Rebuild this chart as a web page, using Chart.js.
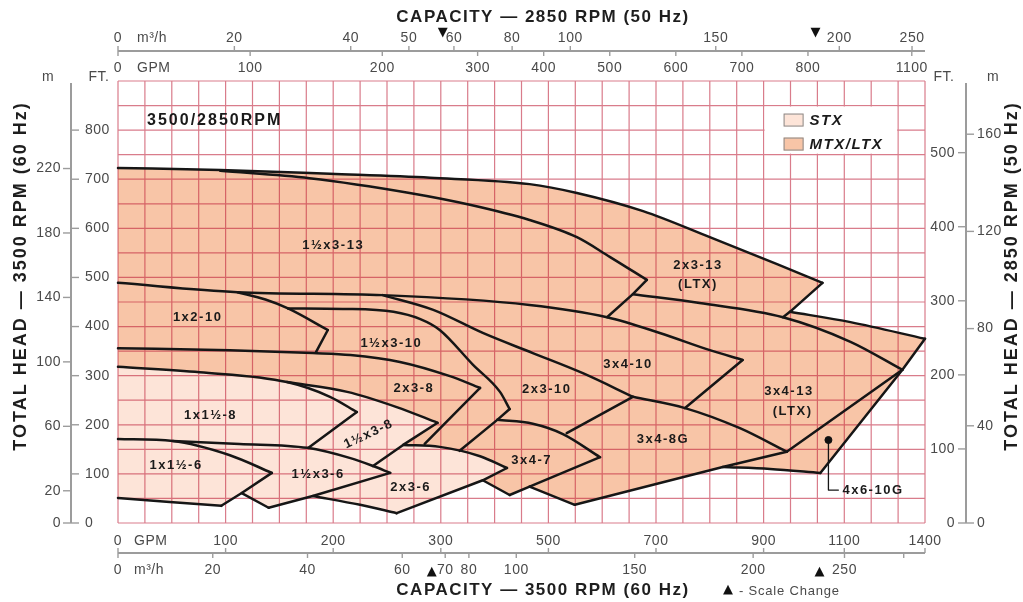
<!DOCTYPE html>
<html>
<head>
<meta charset="utf-8">
<style>
  html, body { margin: 0; padding: 0; background: #fff; }
  #wrap { width: 1023px; height: 602px; }
</style>
<script src="https://cdn.jsdelivr.net/npm/chart.js@4.4.1/dist/chart.umd.min.js"></script>
</head>
<body>
<div id="wrap"><canvas id="pumpChart" width="1023" height="602"></canvas></div>
<script>
// values are [GPM @ 3500 RPM, FT @ 3500 RPM]
const head2x3_13 = [[0,723],[95,719],[197,711],[290,703],[465,690],[553,672],[676,635],[800,582],[925,527],[1019,489]];
const edge2x3_13 = [[1019,489],[949,430],[936,419]];
const base2x3_13 = [[657,466],[781,448],[936,419],[1123,369],[1316,312]];

const head15x3_13 = [[95,717],[178,702],[271,672],[354,648],[465,617],[553,582],[614,542],[683,495]];
const edge15x3_13 = [[683,495],[657,466],[609,419]];
const base15x3_13 = [[0,489],[111,470],[246,464],[465,444],[609,419],[707,387],[800,352],[861,332]];

const head1x2_10 = [[111,470],[137,455],[158,437],[195,393]];
const edge1x2_10 = [[195,393],[184,348]];

const head15x3_10 = [[158,437],[209,436],[256,430],[281,415],[299,393],[360,322],[410,267],[428,232]];
const edge15x3_10 = [[428,232],[405,210],[335,147]];

const head2x3_8 = [[0,356],[104,352],[181,346],[216,342],[262,328],[317,299],[373,275]];
const edge2x3_8 = [[373,275],[285,161]];

const head2x3_10 = [[246,464],[293,434],[378,387],[471,346],[564,305],[657,257]];
const edge2x3_10 = [[657,257],[534,183]];

const edge3x4_10 = [[861,332],[754,234]];

const head3x4_8G = [[657,257],[754,234],[856,193],[943,145]];
const edge3x4_8G = [[943,145],[824,114],[549,37]];
const base3x4_8G = [[465,74],[549,37]];

const head3x4_13 = [[949,430],[1123,409],[1400,375]];
const edge3x4_13 = [[1400,375],[1316,312]];
const base3x4_13 = [[943,145],[1316,312]];

const edge4x6_10G = [[1316,312],[1011,102]];
const base4x6_10G = [[824,114],[912,110],[1011,102]];
const dot4x6_10G = [1041,169];
const lead4x6_10G = [[1041,169],[1041,67],[1078,67]];

const head3x4_7 = [[405,210],[471,202],[527,181],[596,134]];
const edge3x4_7 = [[596,134],[465,74],[428,57]];
const base3x4_7 = [[378,87],[428,57]];

// STX models
const head1x15_8 = [[0,318],[76,307],[157,287],[197,257],[222,226]];
const edge1x15_8 = [[222,226],[177,153]];
const head15x3_8 = [[157,287],[213,267],[259,236],[297,204]];
const edge15x3_8 = [[297,204],[265,159],[237,116]];
const head1x15_6 = [[0,171],[51,167],[104,138],[143,102]];
const edge1x15_6 = [[143,102],[115,61],[96,35]];
const base1x15_6 = [[0,51],[48,43],[96,35]];
const head15x3_6 = [[51,167],[113,161],[176,153],[216,132],[237,116],[253,102]];
const edge15x3_6 = [[253,102],[181,55],[140,31]];
const base15x3_6 = [[115,61],[140,31]];
const head2x3_6 = [[265,159],[299,155],[373,136],[423,112]];
const edge2x3_6 = [[423,112],[378,87],[259,20]];
const base2x3_6 = [[181,55],[225,37],[259,20]];

const modelNames = ['1½x3-13', '2x3-13', '(LTX)', '1x2-10', '1½x3-10', '2x3-8', '2x3-10', '3x4-10',
  '3x4-13', '(LTX)', '3x4-8G', '3x4-7', '2x3-6', '1½x3-6', '1x1½-6', '1x1½-8', '1½x3-8'];
const modelAt = [[200,566],[778,525],[778,485],[74,419],[254,366],[275,275],[497,271],[648,322],
  [947,267],[954,228],[713,171],[469,128],[272,73],[186,98],[54,118],[86,220],[233,181]];
const modelTilt = [0,0,0,0,0,0,0,0,0,0,0,0,0,0,0,0,-25];

// axis ticks
const ftTicks60 = [0,100,200,300,400,500,600,700,800];
const mTicks60 = [0,20,60,100,140,180,220];
const ftTicks50 = [0,100,200,300,400,500];
const mTicks50 = [0,40,80,120,160];
const gpmTicks60 = [0,100,200,300,500,700,900,1100,1400];
const m3hTicks60 = [0,20,40,60,70,80,100,150,200,250];
const m3hMinor60 = [300];
const gpmTicks50 = [0,100,200,300,400,500,600,700,800,1100];
const m3hTicks50 = [0,20,40,50,60,80,100,150,200,250];
const scaleChanges = [300, 1000];

const FLOW_RATIO = 2850 / 3500;
const HEAD_RATIO = FLOW_RATIO * FLOW_RATIO;
const M3H_TO_GPM = 4.4029;
const M_TO_FT = 3.2808;
const FONT = "'Liberation Sans', Arial, Helvetica, sans-serif";
const MTX_FILL = '#f8c5a7';
const STX_FILL = '#fde4d8';
const GRID = 'rgba(190, 30, 55, 0.58)';

// the printed GPM axis changes scale at 300 and 1000 GPM
function gpmToCol(g) {
  if (g <= 300) return g / 25;
  if (g <= 1000) return 12 + (g - 300) / 50;
  return 26 + (g - 1000) / 100;
}

const pt = ([g, ft]) => ({ x: gpmToCol(g), y: ft });
const rev = a => a.slice().reverse();

const mtxBoundary = [
  ...head2x3_13, ...edge2x3_13.slice(1, 2), ...head3x4_13.slice(1), ...edge3x4_13.slice(1),
  ...edge4x6_10G.slice(1), ...rev(base4x6_10G).slice(1), ...edge3x4_8G.slice(2),
  ...rev(base3x4_8G).slice(1), ...edge3x4_7.slice(2), ...rev(base3x4_7).slice(1),
  ...edge2x3_6.slice(2), ...rev(base2x3_6).slice(1), ...edge15x3_6.slice(2),
  ...rev(base15x3_6).slice(1), ...edge1x15_6.slice(2), ...rev(base1x15_6).slice(1)
];
const stxBoundary = [
  ...head1x15_8.slice(0, 3), ...head15x3_8.slice(1), ...edge15x3_8.slice(1, 2),
  ...head2x3_6.slice(1), ...edge2x3_6.slice(1), ...rev(base2x3_6).slice(1),
  ...edge15x3_6.slice(2), ...rev(base15x3_6).slice(1), ...edge1x15_6.slice(2),
  ...rev(base1x15_6).slice(1)
];

const curves = [head2x3_13, head15x3_13, base15x3_13, base2x3_13, head1x2_10, head15x3_10,
  head2x3_8, head2x3_10, head3x4_8G, head3x4_13, base4x6_10G, head3x4_7, head1x15_8,
  head15x3_8, head1x15_6, base1x15_6, head15x3_6, base15x3_6, head2x3_6, base2x3_6,
  base3x4_7, base3x4_8G];
const edges = [edge2x3_13, edge15x3_13, edge1x2_10, edge15x3_10, edge2x3_8, edge2x3_10,
  edge3x4_10, edge3x4_8G, edge3x4_13, base3x4_13, edge4x6_10G, edge3x4_7, edge1x15_8,
  edge15x3_8, edge1x15_6, edge15x3_6, edge2x3_6];

const outline = (d, smooth) => ({
  data: d.map(pt), showLine: true, fill: false, order: 1, clip: false,
  borderColor: '#161616', borderWidth: 2.5, borderCapStyle: 'round', borderJoinStyle: 'round',
  pointRadius: 0, tension: 0, cubicInterpolationMode: smooth ? 'monotone' : 'default'
});

const datasets = [
  { role: 'mtx', data: mtxBoundary.map(pt), showLine: true, fill: 'shape', order: 3,
    backgroundColor: MTX_FILL, borderColor: 'transparent', borderWidth: 1, pointRadius: 0 },
  { role: 'stx', data: stxBoundary.map(pt), showLine: true, fill: 'shape', order: 2,
    backgroundColor: STX_FILL, borderColor: 'transparent', borderWidth: 1, pointRadius: 0 },
  ...curves.map(c => outline(c, true)),
  ...edges.map(e => outline(e, false)),
  { ...outline(lead4x6_10G, false), borderWidth: 1.3 },
  { data: [pt(dot4x6_10G)], showLine: false, order: 0, pointRadius: 3.5,
    pointBackgroundColor: '#111', pointBorderColor: '#111' }
];

function drawGrid(chart) {
  const { ctx, chartArea: a, scales: { x, y } } = chart;
  ctx.save();
  ctx.strokeStyle = GRID;
  ctx.lineWidth = 1.2;
  ctx.beginPath();
  for (let c = x.min; c <= x.max; c++) {
    const xx = x.getPixelForValue(c);
    ctx.moveTo(xx, a.top); ctx.lineTo(xx, a.bottom);
  }
  for (let f = y.min; f <= y.max; f += 50) {
    const yy = y.getPixelForValue(f);
    ctx.moveTo(a.left, yy); ctx.lineTo(a.right, yy);
  }
  ctx.stroke();
  ctx.restore();
}

function drawLabels(chart) {
  const { ctx, scales: { x, y } } = chart;
  ctx.save();
  ctx.fillStyle = '#1a1a1a';
  ctx.textAlign = 'center';
  ctx.textBaseline = 'middle';
  ctx.font = `bold 13px ${FONT}`;
  ctx.letterSpacing = '1.5px';
  modelNames.forEach((name, i) => {
    const xx = x.getPixelForValue(gpmToCol(modelAt[i][0]));
    const yy = y.getPixelForValue(modelAt[i][1]);
    ctx.save();
    ctx.translate(xx, yy);
    ctx.rotate(modelTilt[i] * Math.PI / 180);
    ctx.fillText(name, 0, 0);
    ctx.restore();
  });
  ctx.textAlign = 'left';
  ctx.fillText('4x6-10G', x.getPixelForValue(gpmToCol(1093)), y.getPixelForValue(67));
  ctx.font = `bold 16px ${FONT}`;
  ctx.letterSpacing = '2px';
  ctx.fillText('3500/2850RPM', x.getPixelForValue(gpmToCol(27)), y.getPixelForValue(820));

  // legend box sits on grid cells 900-1300 GPM, 750-850 FT
  const bx = x.getPixelForValue(gpmToCol(900)), by = y.getPixelForValue(850);
  const bw = x.getPixelForValue(gpmToCol(1300)) - bx, bh = y.getPixelForValue(750) - by;
  ctx.fillStyle = '#fff';
  ctx.fillRect(bx + 1, by + 1, bw - 2, bh - 2);
  ctx.letterSpacing = '1.5px';
  [[STX_FILL, 'STX'], [MTX_FILL, 'MTX/LTX']].forEach(([col, txt], i) => {
    const sy = by + 8 + i * 24;
    ctx.fillStyle = col;
    ctx.fillRect(bx + 20, sy, 20, 13);
    ctx.strokeStyle = '#8a8a8a';
    ctx.lineWidth = 1;
    ctx.strokeRect(bx + 20.5, sy + 0.5, 19, 12);
    ctx.fillStyle = '#1a1a1a';
    ctx.font = `italic bold 15px ${FONT}`;
    ctx.fillText(txt, bx + 46, sy + 7);
  });
  ctx.restore();
}

function drawAxes(chart) {
  const { ctx, chartArea: a, scales: { x, y } } = chart;
  const px = g => x.getPixelForValue(gpmToCol(g));
  const py = ft => y.getPixelForValue(ft);
  const seg = (x1, y1, x2, y2) => { ctx.beginPath(); ctx.moveTo(x1, y1); ctx.lineTo(x2, y2); ctx.stroke(); };
  const txt = (s, xx, yy, align) => { ctx.textAlign = align; ctx.fillText(s, xx, yy); };

  ctx.save();
  ctx.strokeStyle = '#9c9c9c';
  ctx.fillStyle = '#4a4a4a';
  ctx.textBaseline = 'middle';
  ctx.font = `14px ${FONT}`;
  ctx.letterSpacing = '0.5px';

  // top: 2850 RPM capacity
  const ty = a.top - 30;
  ctx.lineWidth = 2; seg(a.left, ty, a.right, ty);
  ctx.lineWidth = 1.4;
  m3hTicks50.forEach(v => {
    const xx = px(v * M3H_TO_GPM / FLOW_RATIO);
    seg(xx, ty - 5, xx, ty);
    txt(String(v), xx, ty - 13, 'center');
  });
  gpmTicks50.forEach(v => {
    const xx = px(v / FLOW_RATIO);
    seg(xx, ty, xx, ty + 5);
    txt(String(v), xx, ty + 17, 'center');
  });
  txt('m³/h', a.left + 19, ty - 13, 'left');
  txt('GPM', a.left + 19, ty + 17, 'left');

  // bottom: 3500 RPM capacity
  const by = a.bottom + 30;
  ctx.lineWidth = 2; seg(a.left, by, a.right, by);
  ctx.lineWidth = 1.4;
  gpmTicks60.forEach(v => {
    const xx = px(v);
    seg(xx, by - 5, xx, by);
    txt(String(v), xx, by - 12, 'center');
  });
  m3hTicks60.forEach(v => {
    const xx = px(v * M3H_TO_GPM);
    seg(xx, by, xx, by + 5);
    txt(String(v), xx, by + 17, 'center');
  });
  m3hMinor60.forEach(v => { const xx = px(v * M3H_TO_GPM); seg(xx, by, xx, by + 5); });
  txt('GPM', a.left + 16, by - 12, 'left');
  txt('m³/h', a.left + 16, by + 17, 'left');

  // left: 3500 RPM head
  const lx = a.left - 47;
  ctx.lineWidth = 2; seg(lx, a.top + 2, lx, a.bottom);
  ctx.lineWidth = 1.4;
  ftTicks60.forEach(v => { const yy = py(v); seg(lx, yy, lx + 8, yy); txt(String(v), lx + 14, yy, 'left'); });
  mTicks60.forEach(v => { const yy = py(v * M_TO_FT); seg(lx - 8, yy, lx, yy); txt(String(v), lx - 10, yy, 'right'); });
  txt('m', lx - 23, a.top - 4, 'center');
  txt('FT.', lx + 28, a.top - 4, 'center');

  // right: 2850 RPM head
  const rx = a.right + 41;
  ctx.lineWidth = 2; seg(rx, a.top + 2, rx, a.bottom);
  ctx.lineWidth = 1.4;
  ftTicks50.forEach(v => { const yy = py(v / HEAD_RATIO); seg(rx - 8, yy, rx, yy); txt(String(v), rx - 11, yy, 'right'); });
  mTicks50.forEach(v => { const yy = py(v * M_TO_FT / HEAD_RATIO); seg(rx, yy, rx + 8, yy); txt(String(v), rx + 11, yy, 'left'); });
  txt('FT.', rx - 22, a.top - 4, 'center');
  txt('m', rx + 27, a.top - 4, 'center');

  // scale change markers
  ctx.letterSpacing = '0px';
  ctx.fillStyle = '#111';
  ctx.font = `13px 'DejaVu Sans', sans-serif`;
  scaleChanges.forEach((g, i) => {
    txt('▼', px(g) + (i ? -2 : 2), ty - 18, 'center');
    txt('▲', px(g) + (i ? 2 : -9), by + 19, 'center');
  });
  txt('▲', 728, by + 37, 'center');
  ctx.font = `13px ${FONT}`;
  ctx.letterSpacing = '0.8px';
  ctx.fillStyle = '#4a4a4a';
  txt('- Scale Change', 739, by + 38, 'left');

  // titles
  ctx.fillStyle = '#1e1e1e';
  ctx.font = `bold 17px ${FONT}`;
  ctx.letterSpacing = '1.5px';
  txt('CAPACITY — 2850 RPM (50 Hz)', 543, 17, 'center');
  txt('CAPACITY — 3500 RPM (60 Hz)', 543, by + 37, 'center');
  ctx.font = `bold 18px ${FONT}`;
  ctx.letterSpacing = '2px';
  ctx.save();
  ctx.translate(21, 276); ctx.rotate(-Math.PI / 2);
  txt('TOTAL HEAD — 3500 RPM (60 Hz)', 0, 0, 'center');
  ctx.restore();
  ctx.save();
  ctx.translate(1012, 276); ctx.rotate(-Math.PI / 2);
  txt('TOTAL HEAD — 2850 RPM (50 Hz)', 0, 0, 'center');
  ctx.restore();
  ctx.restore();
}

const pumpDecor = {
  id: 'pumpDecor',
  afterDatasetDraw(chart, args) {
    if (chart.data.datasets[args.index].role === 'stx') drawGrid(chart);
  },
  afterDatasetsDraw(chart) { drawLabels(chart); },
  afterDraw(chart) { drawAxes(chart); }
};

const ctx = document.getElementById('pumpChart').getContext('2d');
const pumpChart = new Chart(ctx, {
  type: 'scatter',
  data: { datasets },
  options: {
    responsive: false,
    animation: false,
    devicePixelRatio: 1,
    layout: { padding: { left: 118, right: 98, top: 81, bottom: 79 } },
    plugins: { legend: { display: false }, tooltip: { enabled: false } },
    scales: {
      x: { type: 'linear', min: 0, max: 30, display: false },
      y: { type: 'linear', min: 0, max: 900, display: false }
    }
  },
  plugins: [pumpDecor]
});
</script>
</body>
</html>
